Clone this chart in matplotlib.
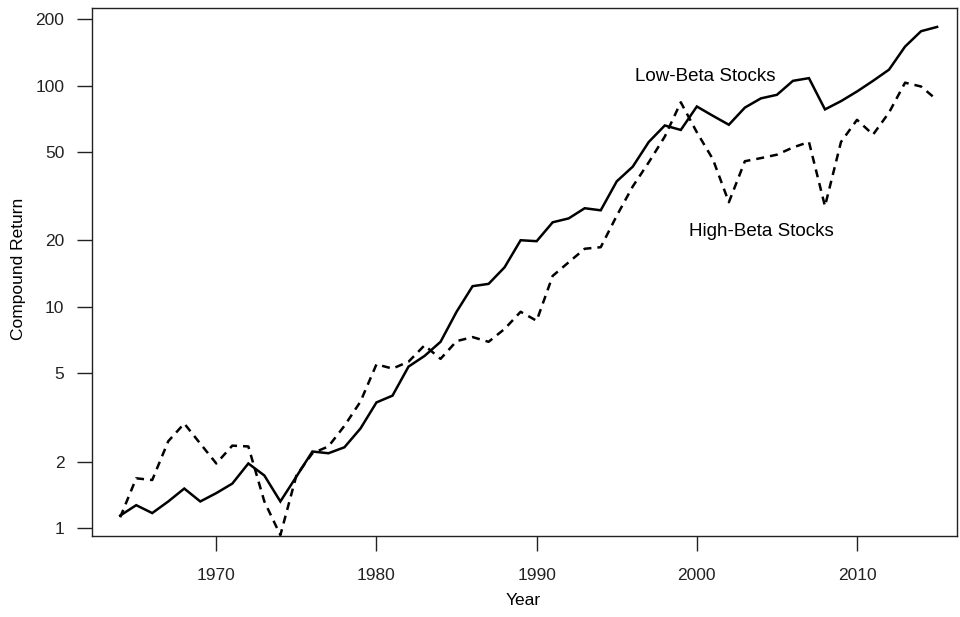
import numpy as np
import matplotlib.pyplot as plt
from matplotlib.ticker import FixedLocator, NullLocator

plt.rcParams['font.family'] = ['Liberation Sans', 'DejaVu Sans']

# compound return of low- and high-beta portfolios, 1964-2015
years = list(range(1964, 2016))
low_beta = [1.14, 1.27, 1.17, 1.32, 1.51, 1.32, 1.44, 1.59, 1.96, 1.73,
            1.32, 1.71, 2.22, 2.18, 2.32, 2.82, 3.70, 3.97, 5.37, 6.0,
            6.95, 9.5, 12.4, 12.7, 15.1, 20.0, 19.8, 24.1, 25.1, 27.9,
            27.3, 36.9, 43.0, 55.6, 66.0, 63.0, 80.4, 73.0, 66.5, 79.5,
            87.5, 90.8, 105, 108, 78, 85, 94, 105, 118, 150,
            176, 184]
high_beta = [1.12, 1.68, 1.65, 2.47, 2.97, 2.41, 1.96, 2.36, 2.34, 1.32,
             0.93, 1.73, 2.18, 2.34, 2.9, 3.73, 5.5, 5.26, 5.65, 6.7,
             5.82, 7.0, 7.3, 6.95, 7.95, 9.5, 8.65, 13.8, 15.9, 18.3,
             18.6, 25.8, 35.0, 45.0, 58.8, 84.0, 61.5, 46.5, 29.7, 45.5,
             47.0, 48.7, 52.5, 55.6, 28.5, 55.6, 70.0, 60.0, 75.5, 103,
             99, 86]

y_ticks = [1, 2, 5, 10, 20, 50, 100, 200]
x_ticks = [1970, 1980, 1990, 2000, 2010]

fs = 12.5

fig = plt.figure(figsize=(9.6, 6.17), dpi=100)
ax = fig.add_axes([0.096, 0.131, 0.901, 0.856])

ax.plot(years, low_beta, color='black', lw=1.8, solid_joinstyle='miter')
ax.plot(years, high_beta, color='black', lw=1.8, linestyle=(0, (3.2, 2.4)))

ax.set_yscale('log')
ax.set_ylim(0.92, 224)
ax.set_xlim(1962.25, 2016.25)
ax.yaxis.set_major_locator(FixedLocator(y_ticks))
ax.yaxis.set_minor_locator(NullLocator())
ax.set_yticklabels([str(v) for v in y_ticks])
ax.set_xticks(x_ticks)
ax.tick_params(direction='out', length=11, width=1, labelsize=fs, colors='#222222')
ax.tick_params(axis='y', pad=9)
ax.tick_params(axis='x', pad=12)

fig.text(0.545, 0.026, 'Year', fontsize=fs, ha='center', va='center')
fig.text(0.019, 0.565, 'Compound Return', fontsize=fs, rotation=90,
         ha='center', va='center')

ax.text(2000.5, 110, 'Low-Beta Stocks', fontsize=13.5, ha='center', va='center')
ax.text(2004, 22, 'High-Beta Stocks', fontsize=13.5, ha='center', va='center')

for s in ax.spines.values():
    s.set_linewidth(1.0)
    s.set_color('#222222')

fig.savefig('out.png', dpi=100)
